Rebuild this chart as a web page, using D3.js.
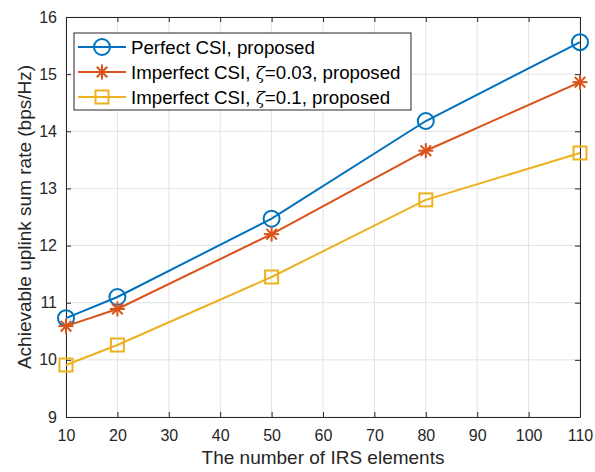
<!DOCTYPE html>
<html><head><meta charset="utf-8">
<script src="https://cdn.jsdelivr.net/npm/d3@7"></script>
<style>body{margin:0;background:#fff}svg{display:block}text{font-family:"Liberation Sans",Arial,sans-serif}</style>
</head><body><svg id="c" width="595" height="472"></svg>
<script>
const xValues=[10,20,50,80,110];
const perfect=[10.73,11.1,12.47,14.18,15.56];
const imp003=[10.59,10.89,12.2,13.66,14.86];
const imp01=[9.91,10.26,11.45,12.8,13.62];
const xTicks=[10,20,30,40,50,60,70,80,90,100,110];
const yTicks=[9,10,11,12,13,14,15,16];
const seriesNames=["Perfect CSI, proposed","Imperfect CSI, ζ=0.03, proposed","Imperfect CSI, ζ=0.1, proposed"];

const svg=d3.select("#c");
const L=66,R=580,T=17,B=417;
const x=d3.scaleLinear().domain([10,110]).range([L,R]);
const y=d3.scaleLinear().domain([9,16]).range([B,T]);
const colors=["#0072BD","#D95319","#EDB120"];
const markers=["circle","star","square"];
const data=[perfect,imp003,imp01];

// grid
const g=svg.append("g");
g.selectAll(".gx").data(xTicks).enter().append("line").attr("x1",d=>x(d)).attr("x2",d=>x(d)).attr("y1",T).attr("y2",B).attr("stroke","#e3e3e3").attr("stroke-width",1);
g.selectAll(".gy").data(yTicks).enter().append("line").attr("y1",d=>y(d)).attr("y2",d=>y(d)).attr("x1",L).attr("x2",R).attr("stroke","#e3e3e3").attr("stroke-width",1);

// axes
const fmt=d3.format("d");
const ax=svg.append("g").attr("transform",`translate(0,${B})`).call(d3.axisBottom(x).tickValues(xTicks).tickFormat(fmt).tickSizeInner(-5).tickSizeOuter(0).tickPadding(13));
const ay=svg.append("g").attr("transform",`translate(${L},0)`).call(d3.axisLeft(y).tickValues(yTicks).tickFormat(fmt).tickSizeInner(-5).tickSizeOuter(0).tickPadding(9));
const axT=svg.append("g").attr("transform",`translate(0,${T})`).call(d3.axisTop(x).tickValues(xTicks).tickSizeInner(-5).tickSizeOuter(0).tickFormat(""));
const ayR=svg.append("g").attr("transform",`translate(${R},0)`).call(d3.axisRight(y).tickValues(yTicks).tickSizeInner(-5).tickSizeOuter(0).tickFormat(""));
[ax,ay,axT,ayR].forEach(a=>{a.attr("font-size",null).attr("font-family",null);a.select(".domain").attr("stroke","#262626");a.selectAll(".tick line").attr("stroke","#262626");a.selectAll("text").style("font-size","16px").attr("fill","#262626");});

function drawMarker(sel,type,color){
  if(type==="circle") sel.append("circle").attr("r",8).attr("fill","none").attr("stroke",color).attr("stroke-width",2);
  else if(type==="square") sel.append("rect").attr("x",-6.5).attr("y",-6.5).attr("width",13).attr("height",13).attr("fill","none").attr("stroke",color).attr("stroke-width",2);
  else {
    const r=7.5;
    for(let a=0;a<4;a++){const ang=a*Math.PI/4;
      sel.append("line").attr("x1",-r*Math.cos(ang)).attr("y1",-r*Math.sin(ang)).attr("x2",r*Math.cos(ang)).attr("y2",r*Math.sin(ang)).attr("stroke",color).attr("stroke-width",2);}
  }
}

const line=d3.line().x((d,i)=>x(xValues[i])).y(d=>y(d));
data.forEach((s,k)=>{
  svg.append("path").datum(s).attr("d",line).attr("fill","none").attr("stroke",colors[k]).attr("stroke-width",2);
  s.forEach((v,i)=>{const m=svg.append("g").attr("transform",`translate(${x(xValues[i])},${y(v)})`);drawMarker(m,markers[k],colors[k]);});
});

// legend
const lg=svg.append("g");
lg.append("rect").attr("x",74).attr("y",33).attr("width",337).attr("height",77).attr("fill","#fff").attr("stroke","#262626").attr("stroke-width",1);
const rowsY=[47,72,97];
seriesNames.forEach((n,k)=>{
  lg.append("line").attr("x1",78).attr("x2",126).attr("y1",rowsY[k]).attr("y2",rowsY[k]).attr("stroke",colors[k]).attr("stroke-width",2);
  drawMarker(lg.append("g").attr("transform",`translate(102,${rowsY[k]})`),markers[k],colors[k]);
  const t=lg.append("text").attr("x",131).attr("y",rowsY[k]+6.5).style("font-size","18.7px").attr("fill","#000");
  if(k===0) t.text(n);
  else{
    const parts=n.split("ζ");
    t.append("tspan").text(parts[0]);
    t.append("tspan").style("font-style","italic").style("font-family","DejaVu Serif, serif").style("font-size","17px").text("ζ");
    t.append("tspan").text(parts[1]);
  }
});

// labels
svg.append("text").attr("x",(L+R)/2).attr("y",464).attr("text-anchor","middle").style("font-size","19px").attr("fill","#262626").text("The number of IRS elements");
svg.append("text").attr("transform",`translate(31,${(T+B)/2}) rotate(-90)`).attr("text-anchor","middle").style("font-size","19px").attr("fill","#262626").text("Achievable uplink sum rate (bps/Hz)");
</script></body></html>
